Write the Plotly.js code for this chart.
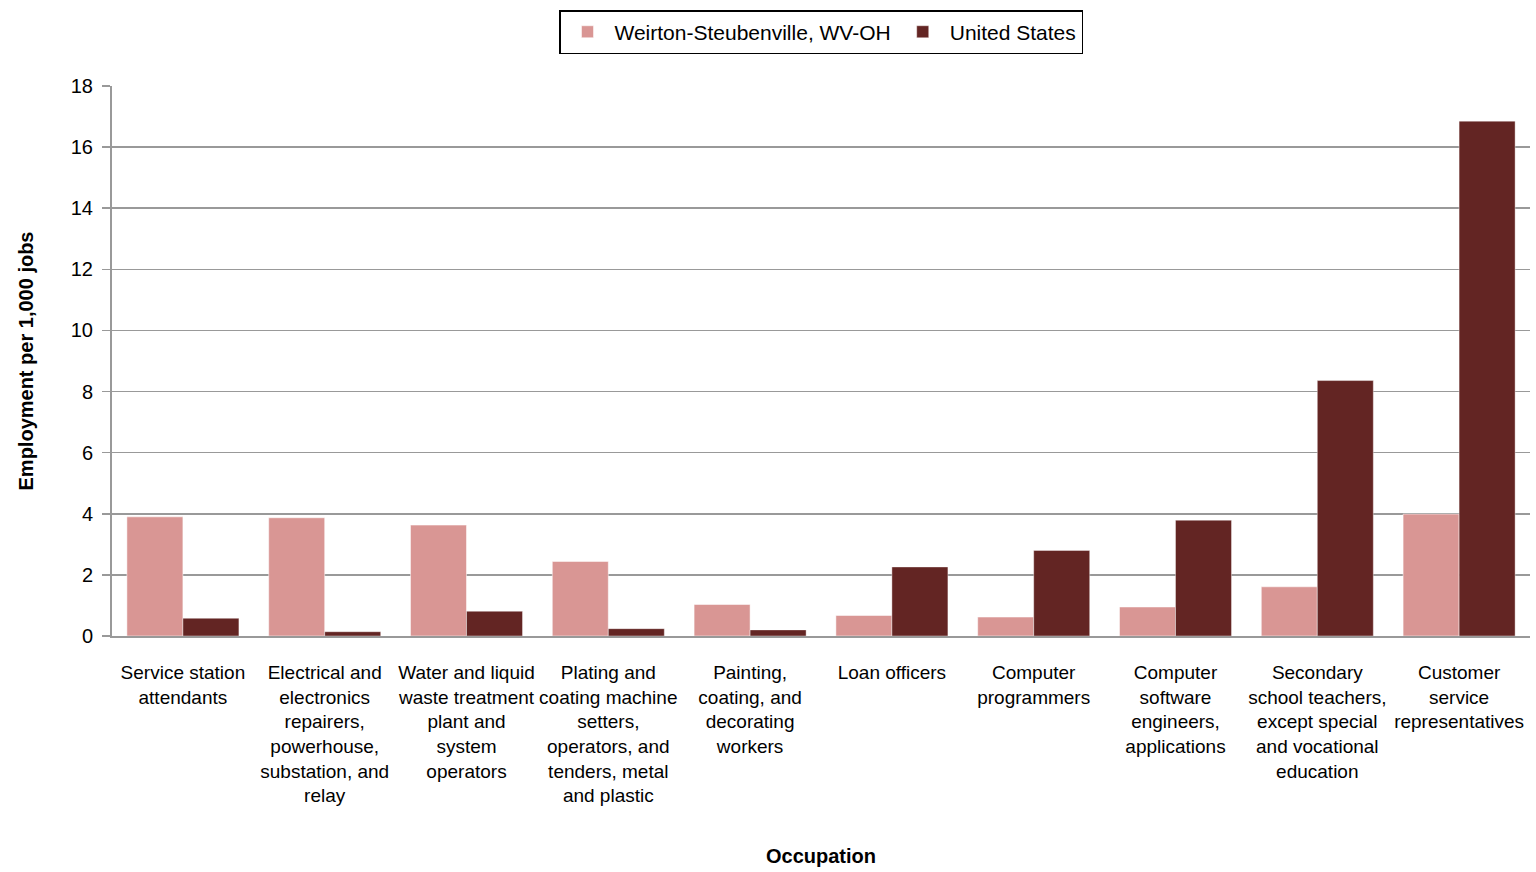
<!DOCTYPE html>
<html>
<head>
<meta charset="utf-8">
<script src="https://cdn.plot.ly/plotly-3.0.1.min.js"></script>
<style>html,body{margin:0;padding:0;background:#fff;}#chart{width:1536px;height:872px;}</style>
</head>
<body>
<div id="chart"></div>
<script>
var categories = [
  "Service station<br>attendants",
  "Electrical and<br>electronics<br>repairers,<br>powerhouse,<br>substation, and<br>relay",
  "Water and liquid<br>waste treatment<br>plant and<br>system<br>operators",
  "Plating and<br>coating machine<br>setters,<br>operators, and<br>tenders, metal<br>and plastic",
  "Painting,<br>coating, and<br>decorating<br>workers",
  "Loan officers",
  "Computer<br>programmers",
  "Computer<br>software<br>engineers,<br>applications",
  "Secondary<br>school teachers,<br>except special<br>and vocational<br>education",
  "Customer<br>service<br>representatives"
];
var weirton = [3.90, 3.87, 3.63, 2.44, 1.03, 0.67, 0.62, 0.95, 1.61, 3.99];
var us = [0.58, 0.14, 0.81, 0.24, 0.20, 2.26, 2.80, 3.79, 8.36, 16.85];
var yTicks = [0, 2, 4, 6, 8, 10, 12, 14, 16, 18];

var FONT = "'Liberation Sans Narrow', 'Arial Narrow', 'Liberation Sans', Arial, sans-serif";

var data = [
  {type: 'bar', name: 'Weirton-Steubenville, WV-OH', x: categories, y: weirton,
   marker: {color: '#D99694', line: {color: 'rgba(255,255,255,0.5)', width: 1}}},
  {type: 'bar', name: 'United States', x: categories, y: us,
   marker: {color: '#632523', line: {color: 'rgba(255,255,255,0.4)', width: 1}}}
];

var layout = {
  width: 1536, height: 872,
  paper_bgcolor: '#fff', plot_bgcolor: '#fff',
  font: {family: FONT, size: 20, color: '#000'},
  margin: {l: 112, r: 6, t: 86, b: 236},
  barmode: 'group', bargap: 0.21, bargroupgap: 0,
  showlegend: true,
  legend: {orientation: 'h', x: 0.5, xanchor: 'center', y: 1.138, yanchor: 'top',
           xref: 'paper', yref: 'paper',
           bordercolor: '#000', borderwidth: 1.5, bgcolor: '#fff',
           font: {family: FONT, size: 21}, itemwidth: 44, traceorder: 'normal'},
  xaxis: {
    type: 'category', showgrid: false, showline: true, linecolor: '#999', linewidth: 2,
    ticks: '', tickangle: 0, tickfont: {family: FONT, size: 19}, automargin: false,
    ticklabelstandoff: 18,
    title: {text: 'Occupation', font: {family: FONT, size: 20, weight: 'bold'}, standoff: 44}
  },
  yaxis: {
    range: [0, 18], tickvals: yTicks, ticktext: yTicks.map(String),
    showgrid: true, gridcolor: '#999', gridwidth: 1.5,
    showline: true, linecolor: '#999', linewidth: 2,
    ticks: 'outside', ticklen: 8, tickcolor: '#999', tickwidth: 1.5,
    ticklabelstandoff: 5,
    tickfont: {family: FONT, size: 20}, zeroline: false, automargin: false,
    title: {text: 'Employment per 1,000 jobs', font: {family: FONT, size: 20, weight: 'bold'}, standoff: 32}
  }
};

Plotly.newPlot('chart', data, layout, {displayModeBar: false, staticPlot: true});
</script>
</body>
</html>
